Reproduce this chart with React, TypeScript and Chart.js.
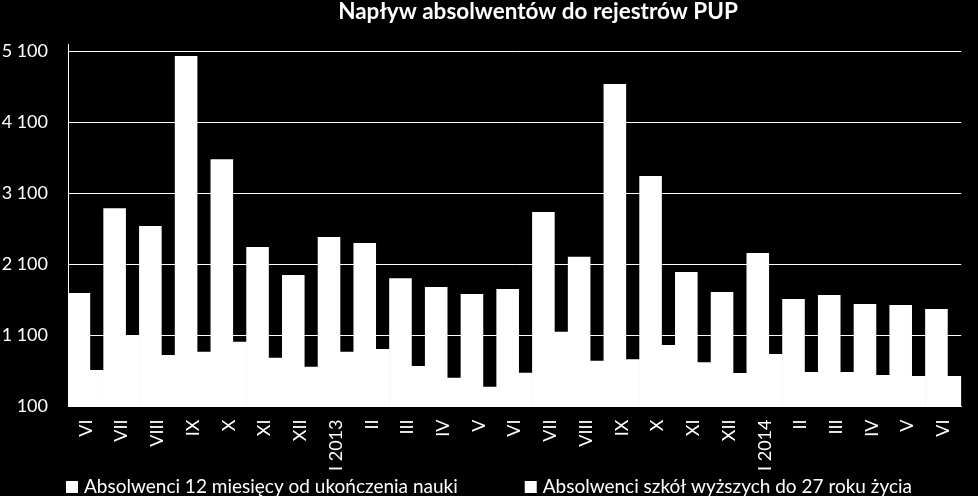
import React, { useEffect, useRef } from "react";
import { Chart, registerables } from "chart.js";

Chart.register(...registerables);

const TITLE = "Napływ absolwentów do rejestrów PUP";
const CATEGORIES = [
  "VI", "VII", "VIII", "IX", "X", "XI", "XII", "I 2013", "II", "III", "IV", "V",
  "VI", "VII", "VIII", "IX", "X", "XI", "XII", "I 2014", "II", "III", "IV", "V", "VI",
];
const SERIES_1_LABEL = "Absolwenci 12 miesięcy od ukończenia nauki";
const SERIES_2_LABEL = "Absolwenci szkół wyższych do 27 roku życia";
const SERIES_1 = [
  1697, 2888, 2639, 5031, 3578, 2344, 1950, 2485, 2400, 1904, 1781, 1683,
  1753, 2836, 2207, 4637, 3343, 1992, 1711, 2260, 1612, 1669, 1542, 1528, 1472,
];
const SERIES_2 = [
  614, 1106, 825, 871, 1012, 787, 660, 871, 909, 670, 505, 379,
  576, 1152, 744, 764, 965, 722, 571, 839, 585, 585, 543, 529, 529,
];
const Y_TICKS = [100, 1100, 2100, 3100, 4100, 5100];
const Y_MIN = 100;
const Y_MAX = 5200;

const FONT = "Lato, 'Open Sans', sans-serif";

function fmt(v: number): string {
  const s = String(Math.round(v));
  return s.replace(/\B(?=(\d{3})+(?!\d))/g, " ");
}

export default function App() {
  const ref = useRef<HTMLCanvasElement | null>(null);

  useEffect(() => {
    document.body.style.margin = "0";
    document.body.style.background = "#000";
    const canvas = ref.current;
    if (!canvas) return;

    const decorPlugin = {
      id: "decor",
      beforeDraw(chart: any) {
        const { ctx, width, height } = chart;
        ctx.save();
        ctx.fillStyle = "#000";
        ctx.fillRect(0, 0, width, height);
        ctx.restore();
      },
      afterDraw(chart: any) {
        const { ctx, width } = chart;
        ctx.save();
        ctx.fillStyle = "#fff";
        // title
        ctx.font = `bold 22.5px ${FONT}`;
        ctx.textAlign = "center";
        ctx.textBaseline = "alphabetic";
        ctx.fillText(TITLE, 538, 19);
        // legend
        const items = chart.data.datasets.map((d: any) => ({
          text: d.label as string,
          color: d.backgroundColor as string,
        }));
        ctx.font = `19px ${FONT}`;
        const box = 12;
        const gapBoxText = 6;
        const gapItems = 67;
        const widths = items.map((it: any) => box + gapBoxText + ctx.measureText(it.text).width);
        const total = widths.reduce((a: number, b: number) => a + b, 0) + gapItems * (items.length - 1);
        let x = (width - total) / 2;
        const cy = 487;
        ctx.textAlign = "left";
        ctx.textBaseline = "middle";
        items.forEach((it: any, i: number) => {
          ctx.fillStyle = it.color;
          ctx.fillRect(x, cy - box / 2, box, box);
          ctx.fillStyle = "#fff";
          ctx.fillText(it.text, x + box + gapBoxText, cy);
          x += widths[i] + gapItems;
        });
        ctx.restore();
      },
    };

    const chart = new Chart(canvas, {
      type: "bar",
      data: {
        labels: CATEGORIES,
        datasets: [
          {
            label: SERIES_1_LABEL,
            data: SERIES_1,
            backgroundColor: "#fff",
            borderWidth: 0,
            categoryPercentage: 0.78,
            barPercentage: 1.62,
          } as any,
          {
            label: SERIES_2_LABEL,
            data: SERIES_2,
            backgroundColor: "#fff",
            borderWidth: 0,
            categoryPercentage: 1.203,
            barPercentage: 0.685,
          } as any,
        ],
      },
      plugins: [decorPlugin],
      options: {
        responsive: false,
        animation: false,
        devicePixelRatio: 1,
        layout: { padding: { top: 44, left: 0, right: 0, bottom: 19.5 } },
        plugins: {
          title: { display: false },
          tooltip: { enabled: false },
          legend: { display: false },
        },
        scales: {
          x: {
            grid: { display: false, drawTicks: false },
            border: { display: true, color: "#fff", width: 1 },
            ticks: {
              color: "#fff",
              font: { family: FONT, size: 18 },
              maxRotation: 90,
              minRotation: 90,
              autoSkip: false,
              padding: 13,
            },
            afterFit: (scale: any) => {
              scale.height = 70;
            },
          },
          y: {
            min: Y_MIN,
            max: Y_MAX,
            grid: { color: "#fff", lineWidth: 1, drawTicks: false },
            border: { display: true, color: "#fff", width: 1 },
            ticks: {
              color: "#fff",
              font: { family: FONT, size: 18 },
              padding: 20,
              callback: (v: any) => fmt(Number(v)),
            },
            afterBuildTicks: (scale: any) => {
              scale.ticks = Y_TICKS.map((v) => ({ value: v }));
            },
            afterFit: (scale: any) => {
              scale.width = 68;
            },
          },
        },
      },
    });

    return () => chart.destroy();
  }, []);

  return (
    <div style={{ position: "absolute", left: 0, top: 0, width: 978, height: 496, background: "#000" }}>
      <canvas ref={ref} width={978} height={496} style={{ display: "block", width: 978, height: 496 }} />
    </div>
  );
}
